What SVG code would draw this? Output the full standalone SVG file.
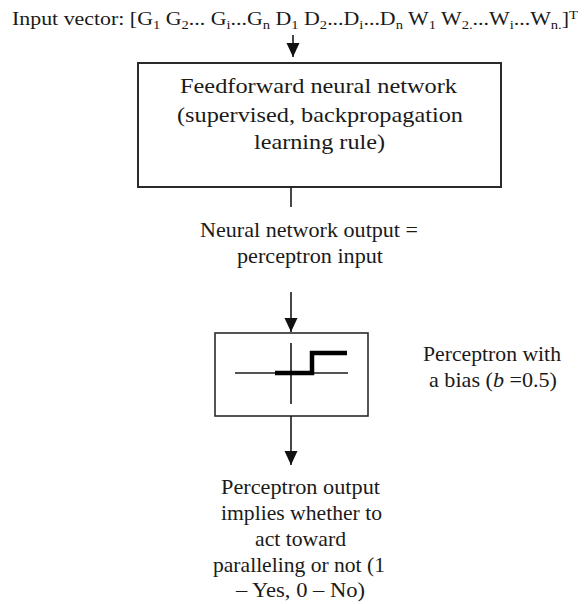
<svg xmlns="http://www.w3.org/2000/svg" width="584" height="604" viewBox="0 0 584 604">
<style>
  text { font-family: "Liberation Serif", "Times New Roman", serif; fill: #1a1a1a; font-size: 21px; }
  .title { font-size: 18px; }
  .sub { font-size: 12px; }
  .box { fill: #ffffff; stroke: #2a2a2a; stroke-width: 2; }
  .conn { stroke: #1a1a1a; stroke-width: 1.6; fill: none; }
  .axis { stroke: #1a1a1a; stroke-width: 1.6; fill: none; }
  .step { stroke: #000000; stroke-width: 4.5; fill: none; }
</style>
<defs>
  <marker id="arrow" markerUnits="userSpaceOnUse" markerWidth="14" markerHeight="14" refX="14" refY="6.5" orient="auto">
    <path d="M0,0 L14,6.5 L0,13 Z" fill="#111111"/>
  </marker>
</defs>
<rect width="584" height="604" fill="#ffffff"/>

<g id="input-vector">
  <text class="title" x="12" y="25" textLength="566" lengthAdjust="spacingAndGlyphs">Input vector: [G<tspan class="sub" dy="4">1</tspan><tspan dy="-4"> G</tspan><tspan class="sub" dy="4">2</tspan><tspan dy="-4">... G</tspan><tspan class="sub" dy="4">i</tspan><tspan dy="-4">...G</tspan><tspan class="sub" dy="4">n</tspan><tspan dy="-4"> D</tspan><tspan class="sub" dy="4">1</tspan><tspan dy="-4"> D</tspan><tspan class="sub" dy="4">2</tspan><tspan dy="-4">...D</tspan><tspan class="sub" dy="4">i</tspan><tspan dy="-4">...D</tspan><tspan class="sub" dy="4">n</tspan><tspan dy="-4"> W</tspan><tspan class="sub" dy="4">1</tspan><tspan dy="-4"> W</tspan><tspan class="sub" dy="4">2.</tspan><tspan dy="-4">...W</tspan><tspan class="sub" dy="4">i</tspan><tspan dy="-4">...W</tspan><tspan class="sub" dy="4">n.</tspan><tspan dy="-4">]</tspan><tspan class="sub" dy="-6">T</tspan></text>
</g>

<g id="feedforward-network">
  <rect class="box" x="138" y="63" width="363" height="124"/>
  <text x="180" y="93" textLength="277" lengthAdjust="spacingAndGlyphs">Feedforward neural network</text>
  <text x="177" y="122" textLength="286" lengthAdjust="spacingAndGlyphs">(supervised, backpropagation</text>
  <text x="254" y="149" textLength="131" lengthAdjust="spacingAndGlyphs">learning rule)</text>
</g>

<g id="nn-output-label">
  <text x="200" y="237" textLength="218" lengthAdjust="spacingAndGlyphs">Neural network output =</text>
  <text x="237" y="263" textLength="146" lengthAdjust="spacingAndGlyphs">perceptron input</text>
</g>

<g id="perceptron">
  <rect x="215" y="333" width="153" height="83" fill="#ffffff" stroke="#2a2a2a" stroke-width="1.6"/>
  <line class="axis" x1="235" y1="373" x2="348" y2="373"/>
  <line class="axis" x1="291" y1="343" x2="291" y2="404"/>
  <polyline class="step" points="275,373 312,373 312,353 347,353"/>
</g>

<g id="perceptron-label">
  <text x="423" y="361" textLength="138" lengthAdjust="spacingAndGlyphs">Perceptron with</text>
  <text x="429" y="387" textLength="128" lengthAdjust="spacingAndGlyphs">a bias (<tspan font-style="italic">b</tspan> =0.5)</text>
</g>

<g id="perceptron-output">
  <text x="221" y="494" textLength="159" lengthAdjust="spacingAndGlyphs">Perceptron output</text>
  <text x="221" y="520" textLength="161" lengthAdjust="spacingAndGlyphs">implies whether to</text>
  <text x="255" y="546" textLength="91" lengthAdjust="spacingAndGlyphs">act toward</text>
  <text x="213" y="572" textLength="172" lengthAdjust="spacingAndGlyphs">paralleling or not (1</text>
  <text x="236" y="597" textLength="129" lengthAdjust="spacingAndGlyphs">– Yes, 0 – No)</text>
</g>

<g id="connectors">
  <line class="conn" x1="293" y1="35" x2="293" y2="57" marker-end="url(#arrow)"/>
  <line class="conn" x1="291" y1="187" x2="291" y2="207"/>
  <line class="conn" x1="291" y1="292" x2="291" y2="332" marker-end="url(#arrow)"/>
  <line class="conn" x1="291" y1="416" x2="291" y2="465" marker-end="url(#arrow)"/>
</g>
</svg>
